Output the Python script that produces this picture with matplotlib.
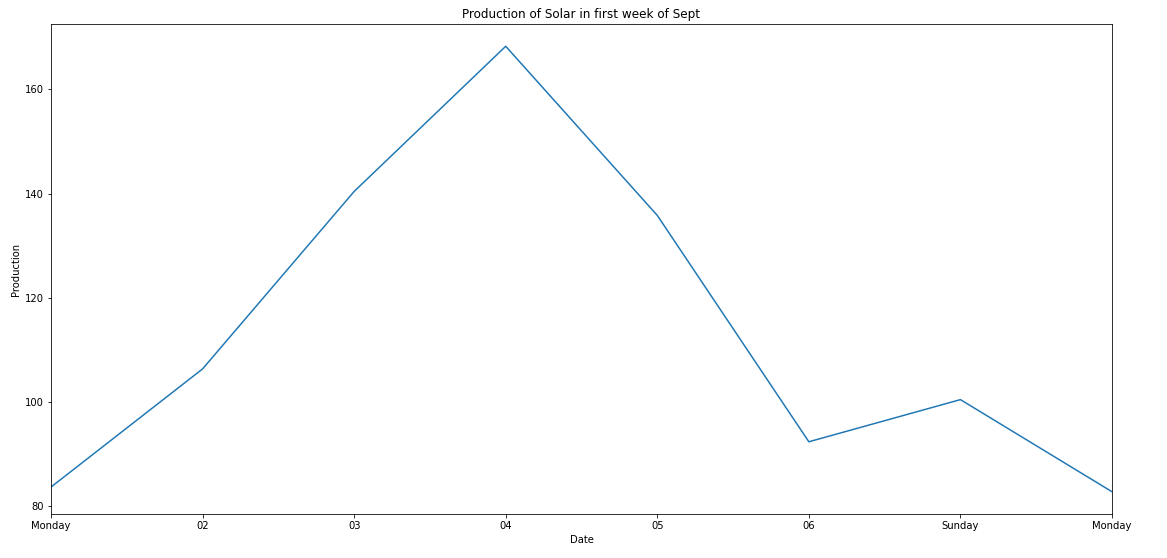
import matplotlib
matplotlib.use("Agg")
import matplotlib.pyplot as plt

# daily solar production, first week of September
days = ["Monday", "02", "03", "04", "05", "06", "Sunday", "Monday"]
production = [83.6, 106.3, 140.4, 168.3, 135.8, 92.3, 100.4, 82.7]

W, H, DPI = 1167, 558, 72
fig = plt.figure(figsize=(W / DPI, H / DPI), dpi=DPI)
ax = fig.add_axes([51 / W, (H - 514) / H, (1112 - 51) / W, (514 - 24) / H])

x = list(range(len(days)))
ax.plot(x, production, color="#1f77b4", linewidth=1.5)

ax.set_xlim(x[0], x[-1])
ax.set_xticks(x)
ax.set_xticklabels(days)
ax.set_yticks([80, 100, 120, 140, 160])

ax.set_title("Production of Solar in first week of Sept")
ax.set_xlabel("Date")
ax.set_ylabel("Production")

fig.savefig("out.png", dpi=DPI)
